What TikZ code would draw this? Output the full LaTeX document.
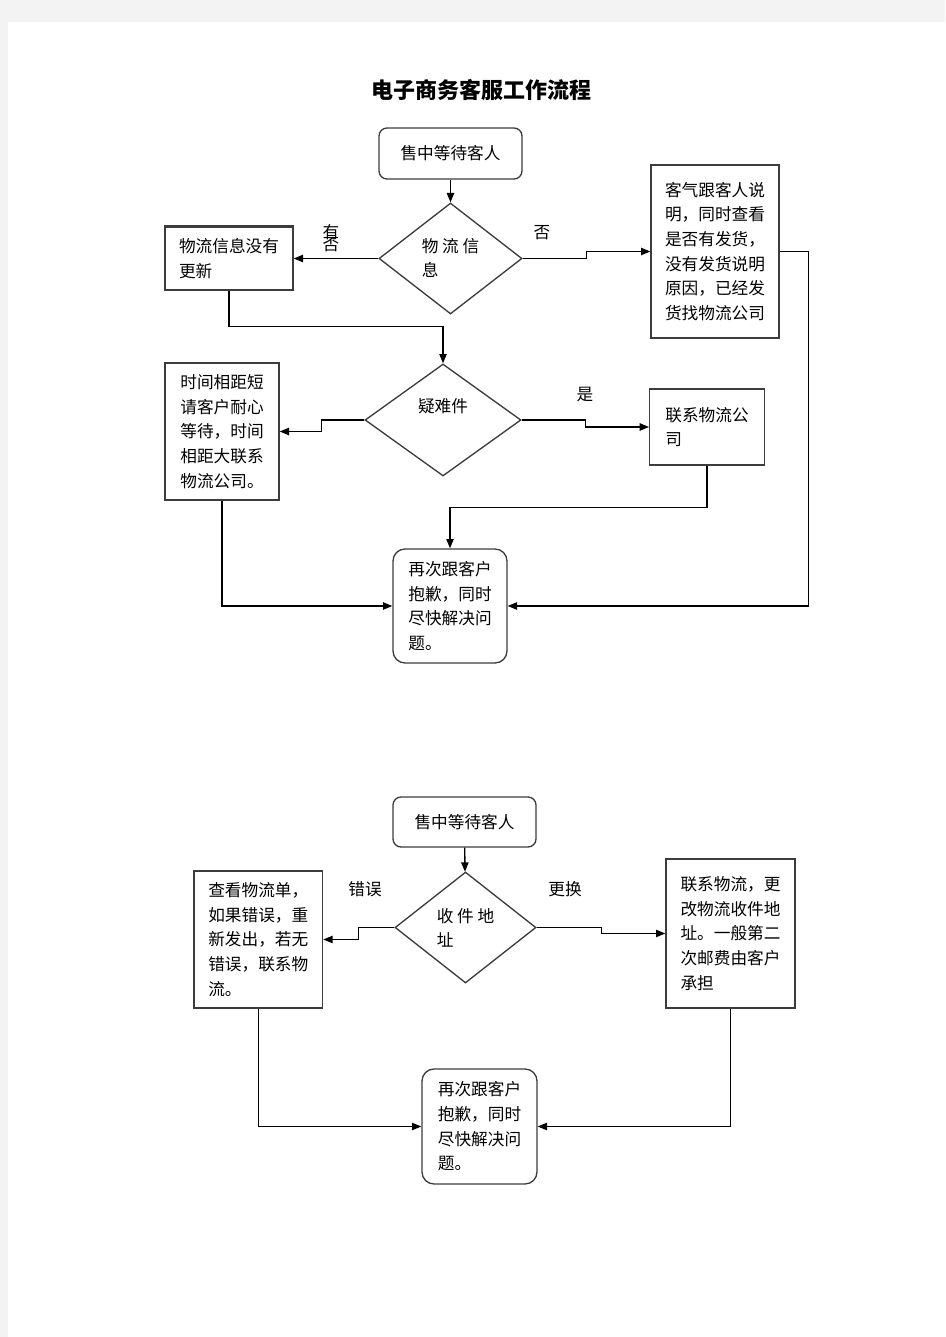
\documentclass[tikz,border=0pt]{standalone}
\usepackage{fontspec}
\setmainfont{Noto Sans CJK SC}
\usetikzlibrary{shapes.geometric,arrows.meta}
\definecolor{pagegray}{RGB}{243,243,243}
\definecolor{boxgray}{RGB}{60,60,60}
\tikzset{
  box/.style={draw=boxgray,rectangle,inner sep=0pt,align=left,font=\fontsize{12.5}{18.5}\selectfont},
  rbox/.style={box,rounded corners=6pt},
  choice/.style={draw=boxgray,diamond,inner sep=0pt,align=left,font=\fontsize{12.5}{18}\selectfont},
  tag/.style={inner sep=0pt,font=\fontsize{12.5}{15}\selectfont}
}
\begin{document}
\begin{tikzpicture}[x=0.75pt,y=-0.75pt,line width=1pt,>={Triangle[length=7pt,width=5.5pt]}]
  % page
  \fill[white] (0,0) rectangle (945,1337);
  \fill[pagegray] (0,0) rectangle (945,22);
  \fill[pagegray] (0,0) rectangle (8,1337);
  \useasboundingbox (0,0) rectangle (945,1337);
  \node[font=\fontsize{16.5}{20}\selectfont\bfseries] (title) at (481,90) {电子商务客服工作流程};

  % first chart
  \node[rbox,minimum width=107.25pt,minimum height=38.25pt] (wait1) at (450.5,153.5) {售中等待客人};
  \node[choice,minimum width=107.25pt,minimum height=83.25pt] (info) at (450.5,258.5) {物 流 信\\息};
  \node[box,minimum width=96pt,minimum height=47.25pt] (upd) at (229,258.5) {物流信息没有\\更新};
  \node[box,minimum width=96pt,minimum height=129.75pt] (expl) at (715,251.5) {客气跟客人说\\明，同时查看\\是否有发货，\\没有发货说明\\原因，已经发\\货找物流公司};
  \node[choice,minimum width=117pt,minimum height=84pt,label={[tag,yshift=10pt]center:疑难件}] (hard) at (443,420) {};
  \node[box,minimum width=85.5pt,minimum height=102.75pt] (wait) at (222,431.5) {时间相距短\\请客户耐心\\等待，时间\\相距大联系\\物流公司。};
  \node[box,minimum width=85.9pt,minimum height=57pt] (call) at (707,427) {联系物流公\\司};
  \node[rbox,rounded corners=9pt,minimum width=85.5pt,minimum height=85.5pt] (sorry1) at (450,606) {再次跟客户\\抱歉，同时\\尽快解决问\\题。};
  \draw[line width=1.8pt,boxgray] (upd.north west) -- (upd.north east);

  \node[tag] (yes1) at (331,232) {有};
  \node[tag] (no1) at (331,245) {否};
  \node[tag] (no2) at (542,233) {否};
  \node[tag] (yes2) at (585,395) {是};

  \draw[->] (wait1) -- (info);
  \draw[->] (info.west) -- (upd.east);
  \draw[->] (info.east) -- ++(64,0) |- (expl.west);
  \draw[->] (upd.south) -- ++(0,36) -| (hard.north);
  \draw[->] (hard.west) -- ++(-43,0) |- (wait.east);
  \draw[->] (hard.east) -- ++(64,0) |- (call.west);
  \draw[->] (call.south) -- ++(0,42) -| (sorry1.north);
  \draw[->] (wait.south) |- (sorry1.west);
  \draw[->] (expl.east) -- ++(29,0) |- (sorry1.east);

  % second chart
  \node[rbox,minimum width=107.25pt,minimum height=37.5pt] (wait2) at (464.5,822) {售中等待客人};
  \node[choice,minimum width=105.75pt,minimum height=83.25pt] (addr) at (465.5,927.5) {收 件 地\\址};
  \node[box,minimum width=96.5pt,minimum height=102.75pt] (chk) at (258.3,939.5) {查看物流单，\\如果错误，重\\新发出，若无\\错误，联系物\\流。};
  \node[box,minimum width=96.75pt,minimum height=111.75pt] (chg) at (730.5,933.5) {联系物流，更\\改物流收件地\\址。一般第二\\次邮费由客户\\承担};
  \node[rbox,rounded corners=9pt,minimum width=86.25pt,minimum height=86.25pt] (sorry2) at (479.5,1126.5) {再次跟客户\\抱歉，同时\\尽快解决问\\题。};

  \node[tag] (wrong) at (365,889) {错误};
  \node[tag] (swap) at (565,889) {更换};

  \draw[->] (wait2) -- (addr);
  \draw[->] (addr.west) -- ++(-36,0) |- (chk.east);
  \draw[->] (addr.east) -- ++(65,0) |- (chg.west);
  \draw[->] (chk.south) |- (sorry2.west);
  \draw[->] (chg.south) |- (sorry2.east);
\end{tikzpicture}
\end{document}
